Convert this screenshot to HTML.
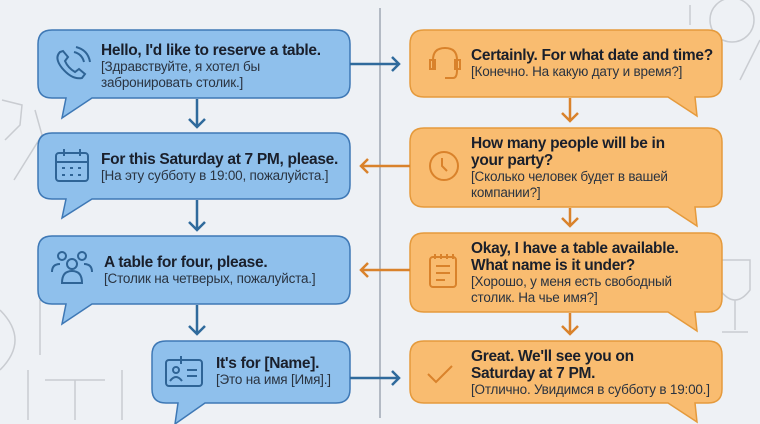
<!DOCTYPE html>
<html><head><meta charset="utf-8"><style>
body{margin:0;width:760px;height:424px;overflow:hidden;background:#eef1f5;font-family:"Liberation Sans","DejaVu Sans",sans-serif;position:relative}
svg{position:absolute;left:0;top:0}
.t{position:absolute;color:#1a1f2b;line-height:17px;white-space:nowrap}
.t b{font-size:15.5px;display:block;letter-spacing:-0.3px}
.t span{font-size:13.5px;display:block;color:#2a3340;line-height:16px;letter-spacing:-0.2px}
</style></head><body>
<svg width="760" height="424" viewBox="0 0 760 424">
<g fill="none" stroke="#c9ccd1" stroke-width="1.5">
<path d="M35 110 L42 135 L14 180"/><path d="M2 100 L22 105 L20 125 L5 140"/>
<circle cx="732" cy="20" r="22"/><path d="M690 5 v20 M740 80 l20 -40"/>
<path d="M720 260 h30 v30 q-15 20 -30 0 z M735 300 v30 M722 332 h26"/>
<path d="M0 310 q30 30 0 60 M40 300 v55"/><path d="M45 380 h60 M75 380 v40 M28 370 v50 M122 370 v50"/>
</g>
<line x1="380" y1="8" x2="380" y2="418" stroke="#b3bac4" stroke-width="2"/>
<g fill="#8fc0ec" stroke="#3e78b5" stroke-width="1.5">
<path d="M52 30 H336 Q350 30 350 44 V84 Q350 98 336 98 H92 L62 118 L66 98 H52 Q38 98 38 84 V44 Q38 30 52 30Z"/>
<path d="M52 133 H336 Q350 133 350 147 V185 Q350 199 336 199 H92 L62 218 L66 199 H52 Q38 199 38 185 V147 Q38 133 52 133Z"/>
<path d="M52 236 H336 Q350 236 350 250 V290 Q350 304 336 304 H92 L62 324 L66 304 H52 Q38 304 38 290 V250 Q38 236 52 236Z"/>
<path d="M166 341 H336 Q350 341 350 355 V389 Q350 403 336 403 H205 L175 424 L178 403 H166 Q152 403 152 389 V355 Q152 341 166 341Z"/>
</g>
<g fill="#f9bc70" stroke="#e59a3c" stroke-width="1.5">
<path d="M424 30 H708 Q722 30 722 44 V83 Q722 97 708 97 H695 L697 116 L668 97 H424 Q410 97 410 83 V44 Q410 30 424 30Z"/>
<path d="M424 128 H708 Q722 128 722 142 V193 Q722 207 708 207 H695 L697 226 L668 207 H424 Q410 207 410 193 V142 Q410 128 424 128Z"/>
<path d="M424 233 H708 Q722 233 722 247 V298 Q722 312 708 312 H695 L697 331 L668 312 H424 Q410 312 410 298 V247 Q410 233 424 233Z"/>
<path d="M424 341 H708 Q722 341 722 355 V389 Q722 403 708 403 H695 L697 422 L668 403 H424 Q410 403 410 389 V355 Q410 341 424 341Z"/>
</g>
<g stroke="#2f6a9c" stroke-width="2.5" fill="none">
<path d="M197 99 V127 M189 119 L197 127 L205 119"/>
<path d="M197 200 V230 M189 222 L197 230 L205 222"/>
<path d="M197 305 V334 M189 326 L197 334 L205 326"/>
<path d="M350 64 H399 M392 57 L399 64 L392 71"/>
<path d="M350 378 H399 M392 371 L399 378 L392 385"/>
</g>
<g stroke="#d9822b" stroke-width="2.5" fill="none">
<path d="M570 98 V121 M562 113 L570 121 L578 113"/>
<path d="M570 208 V226 M562 218 L570 226 L578 218"/>
<path d="M570 313 V334 M562 326 L570 334 L578 326"/>
<path d="M410 166 H361 M368 159 L361 166 L368 173"/>
<path d="M410 270 H361 M368 263 L361 270 L368 277"/>
</g>
<g stroke="#2f6496" stroke-width="2" fill="none">
<path d="M60 52 q-6 6 2 16 q10 12 20 10 l3 -4 l-6 -5 l-4 3 q-7 -4 -10 -11 l3 -4 l-5 -6z"/>
<path d="M74 52 q8 2 10 10 M76 47 q12 3 14 15"/>
<rect x="56" y="153" width="32" height="28" rx="3"/><path d="M56 162 h32 M64 149 v7 M80 149 v7"/>
<path d="M62 168h3M70 168h3M78 168h3M62 175h3M70 175h3M78 175h3"/>
<circle cx="72" cy="264" r="5"/><path d="M62 283 q0 -12 10 -12 q10 0 10 12 z"/>
<circle cx="62" cy="256" r="4"/><circle cx="82" cy="256" r="4"/><path d="M52 272 q0 -8 8 -8 M92 272 q0 -8 -8 -8"/>
<rect x="166" y="360" width="36" height="26" rx="3"/><path d="M181 356 v8"/><circle cx="176" cy="370" r="3"/><path d="M170 381 q6 -8 12 0 M187 370 h10 M187 376 h10"/>
</g>
<g stroke="#d9822b" stroke-width="2" fill="none">
<path d="M433 68 v-8 q0 -12 12 -12 q12 0 12 12 v8 M445 78 h8 q4 0 4 -8"/><rect x="430" y="60" width="5" height="9"/><rect x="455" y="60" width="5" height="9"/>
<circle cx="444" cy="166" r="14"/><path d="M442 158 v8 l5 5"/>
<rect x="430" y="257" width="26" height="30" rx="3"/><path d="M436 266h14M436 273h14M436 280h9M435 254v5M441 254v5M447 254v5M453 254v5"/>
<path d="M428 374 l8 8 l16 -16"/>
</g>
</svg>
<div class="t" style="left:101px;top:42px"><b>Hello, I'd like to reserve a table.</b><span>[Здравствуйте, я хотел бы<br>забронировать столик.]</span></div>
<div class="t" style="left:101px;top:151px"><b>For this Saturday at 7 PM, please.</b><span>[На эту субботу в 19:00, пожалуйста.]</span></div>
<div class="t" style="left:104px;top:254px"><b>A table for four, please.</b><span>[Столик на четверых, пожалуйста.]</span></div>
<div class="t" style="left:216px;top:355px"><b>It's for [Name].</b><span>[Это на имя [Имя].]</span></div>
<div class="t" style="left:471px;top:47px"><b>Certainly. For what date and time?</b><span>[Конечно. На какую дату и время?]</span></div>
<div class="t" style="left:471px;top:135px"><b>How many people will be in<br>your party?</b><span>[Сколько человек будет в вашей<br>компании?]</span></div>
<div class="t" style="left:471px;top:240px"><b>Okay, I have a table available.<br>What name is it under?</b><span>[Хорошо, у меня есть свободный<br>столик. На чье имя?]</span></div>
<div class="t" style="left:471px;top:348px"><b>Great. We'll see you on<br>Saturday at 7 PM.</b><span>[Отлично. Увидимся в субботу в 19:00.]</span></div>
</body></html>
